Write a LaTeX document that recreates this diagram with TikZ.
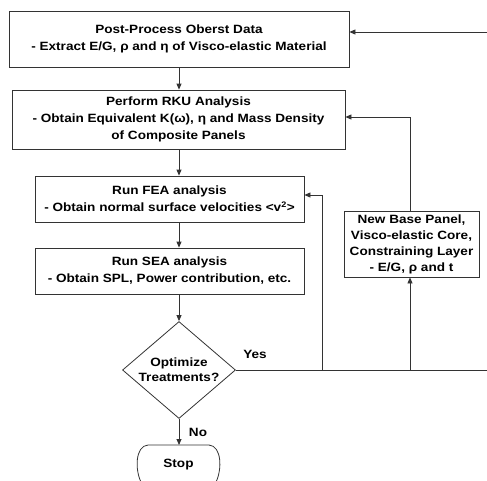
\documentclass[tikz,border=0pt]{standalone}
\usepackage{fontspec}
\setmainfont[FakeStretch=1.13]{Liberation Sans}
\usetikzlibrary{shapes.geometric,arrows.meta}
\begin{document}
\begin{tikzpicture}[x=1pt,y=-1pt,
  line/.style={draw=black!80, line width=0.8pt},
  arr/.style={line, -{Triangle[length=6pt,width=5pt]}},
  box/.style={line, fill=white, rectangle, inner sep=0pt, align=center, font=\fontsize{12}{17}\selectfont\bfseries},
  lbl/.style={font=\fontsize{12}{14}\selectfont\bfseries, inner sep=0pt}
]
\useasboundingbox (0,0) rectangle (487,480);
\clip (0,0) rectangle (487,480);
\node[box, minimum width=340pt, minimum height=56pt] (b1) at (179,39)
  {Post-Process Oberst Data\\- Extract {\large E/G}, ρ and η of Visco-elastic Material};
\node[box, minimum width=333pt, minimum height=59pt] (b2) at (178.5,119.5)
  {Perform RKU Analysis\\- Obtain Equivalent {\large K(ω)}, η and Mass Density\\of Composite Panels};
\node[box, minimum width=269pt, minimum height=46pt] (b3) at (169.5,199)
  {Run FEA analysis\\- Obtain normal surface velocities <v\textsuperscript{2}>};
\node[box, minimum width=269pt, minimum height=46pt] (b4) at (169.5,271)
  {Run SEA analysis\\- Obtain SPL, Power contribution, etc.};
\node[box, diamond, minimum width=113pt, minimum height=97pt, aspect=1.16,
  font=\fontsize{12}{15}\selectfont\bfseries] (dia) at (179,370) {Optimize\\Treatments?};
\node[box, minimum width=135pt, minimum height=66pt, font=\fontsize{12}{16}\selectfont\bfseries] (b5) at (411.5,244)
  {New Base Panel,\\Visco-elastic Core,\\Constraining Layer\\- {\large E/G}, ρ and {\large t}};
\node[lbl, minimum width=81pt, minimum height=40pt] (stop) at (178.5,465) {Stop};
\draw[line] (148,445) -- (209,445) .. controls (222,446) and (222,470) .. (216,482)
  (148,445) .. controls (135,446) and (135,470) .. (141,482);
\node[lbl] (yes) at (255,354) {Yes};
\node[lbl] (no) at (198,432) {No};
\coordinate (rtop) at (487,32);
\coordinate (ryes) at (487,370);
\coordinate (j1) at (322,370);
\coordinate (j2) at (410,370);
\coordinate (stoptop) at (179,445);
\draw[arr] (rtop) -- (b1.east |- rtop);
\draw[arr] (b1.south -| dia.north) -- (b2.north -| dia.north);
\draw[arr] (b2.south -| dia.north) -- (b3.north -| dia.north);
\draw[arr] (b3.south -| dia.north) -- (b4.north -| dia.north);
\draw[arr] (b4.south -| dia.north) -- (dia.north);
\draw[arr] (dia.south) -- (stoptop);
\draw[line] (dia.east) -- (ryes);
\draw[arr] (j1) -- (322,195) -- (b3.east |- 0,195);
\draw[arr] (j2) -- (b5.south -| j2);
\draw[arr] (b5.north -| j2) -- (410,117) -- (b2.east |- 0,117);
\end{tikzpicture}
\end{document}
